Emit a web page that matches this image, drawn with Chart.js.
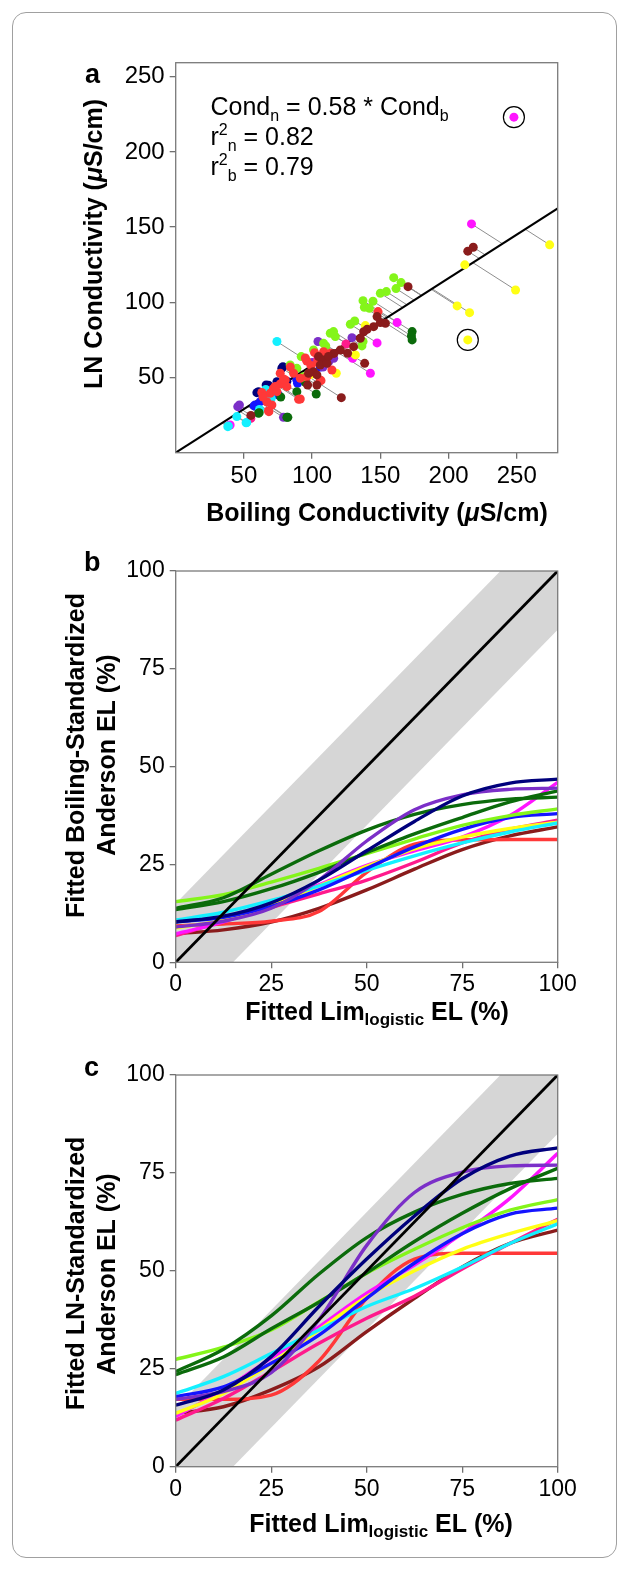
<!DOCTYPE html>
<html><head><meta charset="utf-8">
<script src="https://cdn.jsdelivr.net/npm/chart.js@4.4.1/dist/chart.umd.min.js"></script>
<style>
html,body{margin:0;padding:0;background:#fff;}
body{width:629px;height:1571px;position:relative;overflow:hidden;}
#frame{position:absolute;left:12px;top:12px;width:603px;height:1544px;border:1px solid #a0a0a0;border-radius:14px;}
canvas{position:absolute;left:0;}
</style></head><body>
<div id="frame"></div>
<canvas id="ca" width="629" height="540" style="top:0px"></canvas>
<canvas id="cb" width="629" height="490" style="top:540px"></canvas>
<canvas id="cc" width="629" height="541" style="top:1030px"></canvas>
<script>
const FONT = '"Liberation Sans", Arial, Helvetica, sans-serif';

// ---------- Panel a data (Boiling conductivity x, LN conductivity y) ----------
const slopeNB = 0.58;
const condXMax = 280, condYMax = 259.3;
const condTicks = [50, 100, 150, 200, 250];
const navyPts = [[78.6,57.2],[74.2,47.2],[68.0,44.9],[59.5,39.9],[65.6,37.7],[66.3,45.0],[60.7,40.6],[77.8,56.2],[72.0,43.0],[81.5,47.5]];
const bluePts = [[58.2,31.7],[66.8,36.2],[88.8,48.3],[57.5,31.1],[75.3,38.4],[89.3,46.2],[106.0,57.0],[70.0,41.0],[62.0,34.0]];
const cyanPts = [[74.2,73.9],[61.4,28.8],[44.8,24.0],[38.2,17.3],[51.6,19.9],[38.6,17.8],[70.0,36.0],[66.0,42.0],[52.1,20.0]];
const purplePts = [[45.5,30.6],[46.7,31.7],[79.0,23.5],[104.3,73.9],[115.8,62.8],[112.1,60.5],[129.2,76.5],[108.0,57.0],[100.0,60.0]];
const darkGreenPts = [[173.3,80.5],[172.8,77.6],[173.3,75.0],[103.0,39.0],[88.8,40.6],[61.2,26.6],[81.5,23.5],[82.2,23.5],[60.7,26.2],[95.0,47.0],[77.0,37.0]];
const lawnGreenPts = [[159.8,116.4],[165.2,113.1],[161.5,109.1],[150.0,106.0],[154.4,107.1],[137.3,101.1],[144.6,100.7],[138.3,96.7],[142.0,96.0],[128.0,85.4],[131.2,87.6],[136.5,71.0],[137.3,73.9],[113.3,79.4],[117.0,77.2],[115.7,80.5],[108.4,72.7],[101.0,68.3],[92.0,63.9],[83.9,58.3],[88.8,56.1],[93.7,50.5],[110.0,71.0],[86.0,55.0]];
const yellowPts = [[214.1,75.0],[274.1,138.2],[211.9,124.9],[249.1,108.2],[206.3,97.6],[215.4,93.1],[139.0,84.5],[131.7,65.0],[117.7,52.8],[99.0,52.0]];
const redPts = [[148.3,93.8],[108.4,67.2],[113.3,66.1],[114.5,55.0],[101.8,66.5],[96.1,60.9],[99.1,58.0],[86.4,52.8],[91.3,49.5],[96.1,50.5],[105.9,48.3],[76.6,52.8],[80.3,48.3],[76.6,45.7],[71.7,42.8],[69.3,39.5],[63.1,40.1],[66.8,33.9],[68.0,27.9],[70.5,31.7],[90.1,35.5],[81.5,43.9],[74.2,40.6],[91.3,35.7],[68.3,27.3],[106.5,47.9],[64.0,37.0],[73.0,44.0],[84.0,57.0],[95.0,63.0],[104.0,60.0],[79.0,49.0]];
const darkRedPts = [[214.1,134.0],[218.1,136.6],[170.3,110.4],[147.6,90.5],[150.0,86.5],[153.7,86.0],[145.1,83.8],[140.3,82.0],[137.8,80.4],[135.3,76.1],[130.4,70.5],[120.7,68.3],[126.0,66.1],[138.5,59.4],[104.7,63.9],[108.4,61.7],[106.0,58.3],[110.9,59.4],[101.0,53.9],[103.5,51.7],[97.4,52.8],[96.7,45.0],[103.5,45.0],[121.4,36.6],[55.1,24.8],[116.0,66.0],[112.0,64.0]];
const magentaPts = [[247.9,223.1],[216.8,152.1],[162.3,86.5],[147.6,73.0],[129.7,62.8],[142.7,52.8],[39.9,18.4]];
const deepPinkPts = [[124.8,72.3],[55.1,22.8],[38.8,18.0],[104.0,62.0]];
const circledPts = [[247.9,223.1],[214.1,75.0]];

// ---------- Panels b and c data ----------
const elX = [0, 12.5, 25, 37.5, 50, 62.5, 75, 87.5, 100];
const elTicks = [0, 25, 50, 75, 100];
const bandHalf = 15;
const bNavy = [10.3,11.8,15.2,21,28.5,36,42.5,45.8,46.8];
const bPurple = [9.0,10.5,13.8,21,31,39,42.8,44.2,44.5];
const bDarkGreenA = [13.8,16.5,22.5,28.5,33.8,37.8,40.3,41.7,42.2];
const bDarkGreenB = [13.5,15.5,18.8,23,28,32.8,37,41,43.8];
const bLawnGreen = [15.5,17.3,20.5,24,27.8,31.5,35,37.5,39.2];
const bBlue = [10.3,11.5,14.3,18.5,24,29.5,34,37,38];
const bCyan = [10.8,12.8,15.8,19.5,23.5,27.2,30.5,33.3,35.6];
const bYellow = [8.8,10.8,14.5,19.5,24.5,29,32,34.2,35.8];
const bMagenta = [7.3,10.3,14.8,19.8,24.8,28.5,32,37.5,46];
const bDeepPink = [6.8,10.5,14,17.5,21,25.5,30.5,34,36.3];
const bRed = [9.3,9.8,10.5,13,23,30.2,31.3,31.4,31.4];
const bDarkRed = [7.3,8.3,10.3,13.8,18.5,23.8,28.8,32.3,34.6];

const cNavy = [15.7,19.6,28.1,40.9,53,64,73.5,79.3,81.4];
const cPurple = [17.2,19.2,24,37.5,56.5,70,75.2,76.8,77];
const cDarkGreenA = [24.3,30,38.5,49.2,58.5,65,69.5,72.3,73.6];
const cDarkGreenB = [23.5,28,35.2,42,49.5,57.5,64.7,71,76.2];
const cLawnGreen = [27.4,30.5,34.9,42.1,49.4,55.5,61,65.5,68.2];
const cBlue = [17.9,20.4,26.4,33.6,43,52,59.5,64.5,66];
const cCyan = [18.7,23,28.9,34.9,40.9,45.5,51,57,62];
const cYellow = [13.6,18.7,26.4,34.9,43.4,50,55.5,59.5,62.8];
const cMagenta = [12.8,19.6,27.7,35.7,44.3,51.5,59.5,68.5,80];
const cDeepPink = [11.9,17.4,24.3,31.5,37.9,43.5,50.5,57,63.2];
const cRed = [17.2,17.2,18.3,27,43,53,54.5,54.5,54.5];
const cDarkRed = [13.6,15.3,19.6,25.5,34.5,43,51,57,60.4];

// ---------- colours ----------
const COL = {
  navy:'#00007c', blue:'#1414ff', cyan:'#14f0ff', purple:'#7b2fc8', darkgreen:'#0b6b0b',
  lawngreen:'#84f51a', yellow:'#ffff14', red:'#ff3838', darkred:'#8a1c1c', magenta:'#ff14ff', deeppink:'#ff1a8c'
};

// ---------- helpers ----------
function rich(ctx, parts, x, y, align, rotate) {
  ctx.save();
  ctx.translate(x, y);
  if (rotate) ctx.rotate(-Math.PI / 2);
  ctx.textBaseline = 'alphabetic';
  ctx.textAlign = 'left';
  ctx.fillStyle = '#000';
  let w = 0;
  parts.forEach(p => { ctx.font = p.f; p.w = ctx.measureText(p.t).width; w += p.w; });
  let cx = align === 'center' ? -w / 2 : 0;
  parts.forEach(p => { ctx.font = p.f; ctx.fillText(p.t, cx, p.dy || 0); cx += p.w; });
  ctx.restore();
}
const B25 = 'bold 25px ' + FONT, BI25 = 'italic bold 25px ' + FONT, B17 = 'bold 17px ' + FONT;
const R25 = '25px ' + FONT, R16 = '16px ' + FONT, BL = 'bold 27px ' + FONT;

function decor(texts) {
  return {
    id: 'decor',
    afterDraw(chart) {
      const ctx = chart.ctx, a = chart.chartArea;
      ctx.save();
      ctx.strokeStyle = '#7a7a7a'; ctx.lineWidth = 1.3;
      ctx.strokeRect(a.left, a.top, a.right - a.left, a.bottom - a.top);
      ctx.restore();
      texts.forEach(t => rich(ctx, t.parts, t.x, t.y, t.align, t.rot));
    }
  };
}

function axis(min, max, tickVals, isY, fitSize, fontSize) {
  return {
    type: 'linear', min: min, max: max,
    afterBuildTicks: s => { s.ticks = tickVals.map(v => ({ value: v })); },
    afterFit: s => { if (isY) s.width = fitSize; else s.height = fitSize; },
    grid: { display: true, drawOnChartArea: false, drawTicks: true, tickLength: 6, color: '#707070', lineWidth: 1.3 },
    border: { display: false },
    ticks: { color: '#000', font: { family: FONT, size: fontSize }, padding: isY ? 5 : 3, maxRotation: 0, minRotation: 0, autoSkip: false, callback: v => String(v) },
    title: { display: false }
  };
}

function baseOptions(pad, xFit, yFit, xMax, yMax, xT, yT, fs) {
  return {
    responsive: false, animation: false, devicePixelRatio: 1, events: [],
    layout: { padding: pad },
    plugins: { legend: { display: false }, tooltip: { enabled: false } },
    scales: { x: axis(0, xMax, xT, false, xFit, fs), y: axis(0, yMax, yT, true, yFit, fs) }
  };
}

function withOrder(list) { const n = list.length; list.forEach((d, i) => d.order = n - i); return list; }

// ---------- Panel a ----------
const groupsA = [
  [navyPts, COL.navy], [bluePts, COL.blue], [purplePts, COL.purple],
  [deepPinkPts, COL.deeppink], [magentaPts, COL.magenta], [cyanPts, COL.cyan], [yellowPts, COL.yellow],
  [darkGreenPts, COL.darkgreen], [lawnGreenPts, COL.lawngreen], [redPts, COL.red], [darkRedPts, COL.darkred]
];
const isCircled = p => circledPts.some(c => c[0] === p[0] && c[1] === p[1]);
const segData = [];
groupsA.forEach(([pts]) => pts.forEach(p => {
  if (isCircled(p)) return;
  const t = (p[1] - slopeNB * p[0]) / (2 * slopeNB);
  segData.push({ x: p[0], y: p[1] }, { x: p[0] + t, y: p[1] - slopeNB * t }, { x: p[0] + t, y: null });
}));
const dsA = [
  { data: segData, showLine: true, spanGaps: false, borderColor: '#8e8e8e', borderWidth: 1, pointRadius: 0, tension: 0 },
  { data: [{ x: 0, y: 0 }, { x: condXMax, y: slopeNB * condXMax }], showLine: true, borderColor: '#000', borderWidth: 2, pointRadius: 0 }
];
groupsA.forEach(([pts, col]) => dsA.push({
  data: pts.map(p => ({ x: p[0], y: p[1] })), showLine: false,
  pointRadius: 4.5, pointHoverRadius: 4.5, pointBackgroundColor: col, backgroundColor: col, pointBorderWidth: 0, borderWidth: 0
}));
dsA.push({ data: circledPts.map(p => ({ x: p[0], y: p[1] })), showLine: false, pointRadius: 10.5,
  pointBackgroundColor: 'rgba(0,0,0,0)', pointBorderColor: '#000', pointBorderWidth: 1.2 });

new Chart(document.getElementById('ca'), {
  type: 'scatter',
  data: { datasets: withOrder(dsA) },
  options: baseOptions({ left: 0, top: 62.7, right: 71.3, bottom: 0 }, 540 - 452.7, 175.7, condXMax, condYMax, condTicks, condTicks, 24),
  plugins: [decor([
    { parts: [{ t: 'a', f: BL }], x: 85, y: 83 },
    { parts: [{ t: 'LN Conductivity (', f: B25 }, { t: 'μ', f: BI25 }, { t: 'S/cm)', f: B25 }], x: 101.5, y: 244, align: 'center', rot: true },
    { parts: [{ t: 'Boiling Conductivity (', f: B25 }, { t: 'μ', f: BI25 }, { t: 'S/cm)', f: B25 }], x: 377, y: 520.5, align: 'center' },
    { parts: [{ t: 'Cond', f: R25 }, { t: 'n', f: R16, dy: 6 }, { t: ' = 0.58 * Cond', f: R25 }, { t: 'b', f: R16, dy: 6 }], x: 210.5, y: 115 },
    { parts: [{ t: 'r', f: R25 }, { t: '2', f: R16, dy: -10 }, { t: 'n', f: R16, dy: 6 }, { t: ' = 0.82', f: R25 }], x: 210.5, y: 145 },
    { parts: [{ t: 'r', f: R25 }, { t: '2', f: R16, dy: -10 }, { t: 'b', f: R16, dy: 6 }, { t: ' = 0.79', f: R25 }], x: 210.5, y: 175 }
  ])]
});

// ---------- Panels b, c ----------
const bandPlugin = {
  id: 'band',
  beforeDatasetsDraw(chart) {
    const xs = chart.scales.x, ys = chart.scales.y, ctx = chart.ctx, a = chart.chartArea;
    const poly = [[0, 0], [0, bandHalf], [100 - bandHalf, 100], [100, 100], [100, 100 - bandHalf], [bandHalf, 0]];
    ctx.save();
    ctx.beginPath(); ctx.rect(a.left, a.top, a.right - a.left, a.bottom - a.top); ctx.clip();
    ctx.beginPath();
    poly.forEach((p, i) => { const px = xs.getPixelForValue(p[0]), py = ys.getPixelForValue(p[1]); i ? ctx.lineTo(px, py) : ctx.moveTo(px, py); });
    ctx.closePath(); ctx.fillStyle = '#d6d6d6'; ctx.fill();
    ctx.restore();
  }
};

function curveSets(series) {
  const ds = series.map(([ys, col]) => ({
    data: elX.map((x, i) => ({ x: x, y: ys[i] })), showLine: true, borderColor: col, borderWidth: 3.4,
    pointRadius: 0, cubicInterpolationMode: 'monotone', fill: false
  }));
  ds.push({ data: [{ x: 0, y: 0 }, { x: 100, y: 100 }], showLine: true, borderColor: '#000', borderWidth: 2.8, pointRadius: 0 });
  return withOrder(ds);
}

new Chart(document.getElementById('cb'), {
  type: 'scatter',
  data: { datasets: curveSets([
    [bDarkRed, COL.darkred], [bRed, COL.red], [bDeepPink, COL.deeppink], [bMagenta, COL.magenta],
    [bYellow, COL.yellow], [bCyan, COL.cyan], [bBlue, COL.blue], [bLawnGreen, COL.lawngreen],
    [bDarkGreenB, COL.darkgreen], [bDarkGreenA, COL.darkgreen], [bPurple, COL.purple], [bNavy, COL.navy]
  ]) },
  options: baseOptions({ left: 0, top: 31, right: 71.3, bottom: 0 }, 490 - 422.3, 175.7, 100, 100, elTicks, elTicks, 23),
  plugins: [bandPlugin, decor([
    { parts: [{ t: 'b', f: BL }], x: 84, y: 30.5 },
    { parts: [{ t: 'Fitted Boiling-Standardized', f: B25 }], x: 84, y: 215.5, align: 'center', rot: true },
    { parts: [{ t: 'Anderson EL (%)', f: B25 }], x: 115, y: 215, align: 'center', rot: true },
    { parts: [{ t: 'Fitted Lim', f: B25 }, { t: 'logistic', f: B17, dy: 5 }, { t: ' EL (%)', f: B25 }], x: 377, y: 480, align: 'center' }
  ])]
});

new Chart(document.getElementById('cc'), {
  type: 'scatter',
  data: { datasets: curveSets([
    [cDarkRed, COL.darkred], [cRed, COL.red], [cDeepPink, COL.deeppink], [cMagenta, COL.magenta],
    [cYellow, COL.yellow], [cCyan, COL.cyan], [cBlue, COL.blue], [cLawnGreen, COL.lawngreen],
    [cDarkGreenB, COL.darkgreen], [cDarkGreenA, COL.darkgreen], [cPurple, COL.purple], [cNavy, COL.navy]
  ]) },
  options: baseOptions({ left: 0, top: 45, right: 71.3, bottom: 0 }, 541 - 436.7, 175.7, 100, 100, elTicks, elTicks, 23),
  plugins: [bandPlugin, decor([
    { parts: [{ t: 'c', f: BL }], x: 84, y: 46 },
    { parts: [{ t: 'Fitted LN-Standardized', f: B25 }], x: 84, y: 243.5, align: 'center', rot: true },
    { parts: [{ t: 'Anderson EL (%)', f: B25 }], x: 115, y: 244, align: 'center', rot: true },
    { parts: [{ t: 'Fitted Lim', f: B25 }, { t: 'logistic', f: B17, dy: 5 }, { t: ' EL (%)', f: B25 }], x: 381, y: 501.5, align: 'center' }
  ])]
});
</script>
</body></html>
